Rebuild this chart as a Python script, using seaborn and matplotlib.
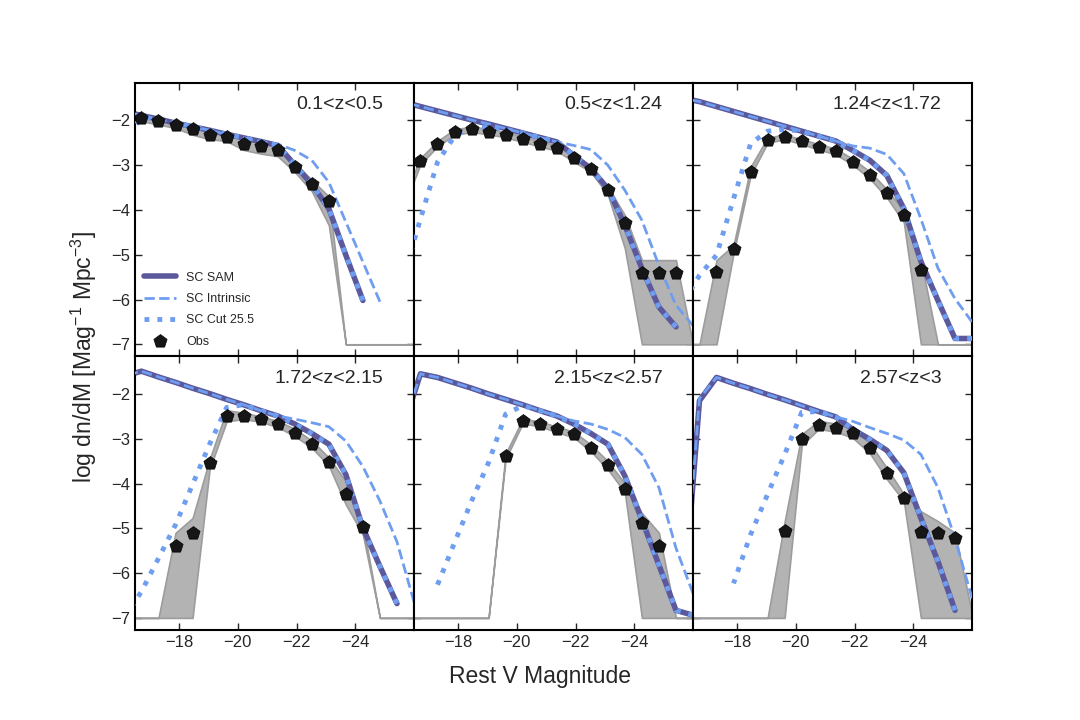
import numpy as np
import pandas as pd
import matplotlib
matplotlib.use("Agg")
import matplotlib.pyplot as plt
import seaborn as sns

nan = np.nan

# magnitude bin centres (shared by model and data)
MAG = [-16.14, -16.72, -17.30, -17.88, -18.46, -19.04, -19.62, -20.20, -20.78,
       -21.36, -21.94, -22.52, -23.10, -23.68, -24.26, -24.84, -25.42, -26.00]

ZBINS = ["0.1<z<0.5", "0.5<z<1.24", "1.24<z<1.72",
         "1.72<z<2.15", "2.15<z<2.57", "2.57<z<3"]

SAM = [
    [-1.80, -1.89, -1.97, -2.06, -2.14, -2.22, -2.31, -2.39, -2.47, -2.56, -2.99, -3.43, -3.97, -5.01, -6.02, nan, nan, nan],
    [-1.59, -1.69, -1.79, -1.89, -1.99, -2.08, -2.18, -2.28, -2.38, -2.48, -2.78, -3.08, -3.52, -4.34, -5.31, -6.17, -6.61, nan],
    [-1.50, -1.58, -1.69, -1.80, -1.91, -2.02, -2.13, -2.24, -2.35, -2.46, -2.67, -2.89, -3.23, -3.97, -5.15, -6.02, -6.87, -6.87],
    [-1.60, -1.49, -1.62, -1.74, -1.87, -1.99, -2.12, -2.24, -2.37, -2.49, -2.67, -2.88, -3.12, -3.80, -4.99, -5.85, -6.68, nan],
    [-2.72, -1.55, -1.63, -1.75, -1.87, -2.00, -2.12, -2.24, -2.37, -2.49, -2.67, -2.88, -3.12, -3.83, -4.81, -5.82, -6.83, -6.94],
    [-7.00, -2.15, -1.63, -1.76, -1.88, -2.01, -2.13, -2.26, -2.39, -2.51, -2.79, -3.01, -3.26, -3.76, -4.77, -5.74, -6.83, nan],
]

INTRINSIC = [
    [-1.80, -1.89, -1.97, -2.06, -2.14, -2.22, -2.31, -2.39, -2.47, -2.53, -2.67, -2.89, -3.38, -4.27, -5.16, -6.05, nan, nan],
    [-1.59, -1.69, -1.79, -1.89, -1.99, -2.08, -2.18, -2.28, -2.38, -2.48, -2.56, -2.65, -3.00, -3.56, -4.23, -5.24, -6.13, -6.58],
    [-1.50, -1.58, -1.69, -1.80, -1.91, -2.02, -2.13, -2.24, -2.35, -2.46, -2.57, -2.62, -2.76, -3.19, -4.20, -5.30, -5.98, -6.50],
    [-1.60, -1.49, -1.62, -1.74, -1.87, -1.99, -2.12, -2.24, -2.37, -2.49, -2.56, -2.64, -2.73, -3.05, -3.62, -4.39, -5.30, -6.64],
    [-2.72, -1.55, -1.63, -1.75, -1.87, -2.00, -2.12, -2.24, -2.37, -2.49, -2.60, -2.67, -2.79, -2.97, -3.35, -4.09, -5.44, -6.45],
    [-7.00, -2.10, -1.63, -1.76, -1.88, -2.01, -2.13, -2.26, -2.39, -2.51, -2.61, -2.75, -2.88, -3.03, -3.35, -4.09, -5.22, -6.56],
]

CUT = [
    [-2.45, -1.93, -1.98, -2.06, -2.14, -2.22, -2.31, -2.39, -2.47, -2.56, -2.99, -3.43, -3.97, -5.01, -6.02, nan, nan, nan],
    [-5.50, -4.20, -2.93, -2.35, -2.15, -2.15, -2.20, -2.28, -2.38, -2.48, -2.78, -3.08, -3.52, -4.34, -5.31, -6.17, -6.61, nan],
    [-6.10, -5.46, -5.01, -3.75, -2.52, -2.24, -2.20, -2.24, -2.35, -2.46, -2.67, -2.89, -3.23, -3.97, -5.15, -6.02, -6.87, -6.87],
    [-7.00, -6.41, -5.67, -4.92, -4.02, -3.12, -2.30, -2.24, -2.37, -2.49, -2.67, -2.88, -3.12, -3.80, -4.99, -5.85, -6.68, nan],
    [nan, nan, -6.26, -5.32, -4.39, -3.53, -2.45, -2.26, -2.37, -2.49, -2.67, -2.88, -3.12, -3.83, -4.81, -5.82, -6.83, -6.94],
    [nan, nan, nan, -6.23, -5.14, -4.24, -3.35, -2.41, -2.39, -2.51, -2.79, -3.01, -3.26, -3.76, -4.77, -5.74, -6.83, nan],
]

OBS = [
    [nan, -1.95, -2.02, -2.10, -2.20, -2.33, -2.38, -2.52, -2.58, -2.65, -3.03, -3.42, -3.80, nan, nan, nan, nan, nan],
    [nan, -2.91, -2.52, -2.26, -2.20, -2.25, -2.32, -2.42, -2.52, -2.62, -2.85, -3.08, -3.56, -4.28, -5.40, -5.40, -5.40, nan],
    [nan, nan, -5.38, -4.88, -3.15, -2.43, -2.37, -2.47, -2.59, -2.69, -2.92, -3.21, -3.62, -4.12, -5.33, nan, nan, nan],
    [nan, nan, nan, -5.39, -5.10, -3.53, -2.50, -2.50, -2.56, -2.67, -2.86, -3.12, -3.51, -4.23, -4.98, nan, nan, nan],
    [nan, nan, nan, nan, nan, nan, -3.38, -2.61, -2.66, -2.79, -2.90, -3.20, -3.59, -4.12, -4.87, -5.39, nan, nan],
    [nan, nan, nan, nan, nan, nan, -5.05, -3.01, -2.69, -2.75, -2.88, -3.21, -3.77, -4.32, -5.09, -5.10, -5.22, nan],
]

OBS_LO = [
    [nan, -2.02, -2.09, -2.17, -2.32, -2.42, -2.46, -2.66, -2.74, -2.80, -3.15, -3.58, -4.34, -7.0, -7.0, -7.0, -7.0, -7.0],
    [-3.95, -2.98, -2.58, -2.32, -2.26, -2.31, -2.38, -2.48, -2.58, -2.68, -2.92, -3.15, -3.66, -4.86, -7.0, -7.0, -7.0, -7.0],
    [-7.0, -7.0, -7.0, -4.97, -3.23, -2.50, -2.42, -2.53, -2.65, -2.76, -2.99, -3.30, -3.72, -4.28, -7.0, -7.0, -7.0, -7.0],
    [-7.0, -7.0, -7.0, -7.0, -7.0, -3.68, -2.61, -2.56, -2.62, -2.74, -2.94, -3.20, -3.60, -4.47, -5.14, -7.0, -7.0, -7.0],
    [-7.0, -7.0, -7.0, -7.0, -7.0, -7.0, -3.45, -2.66, -2.72, -2.85, -2.97, -3.28, -3.68, -4.20, -7.0, -7.0, -7.0, -7.0],
    [-7.0, -7.0, -7.0, -7.0, -7.0, -7.0, -7.0, -3.15, -2.78, -2.84, -2.98, -3.32, -3.90, -4.39, -7.0, -7.0, -7.0, -7.0],
]

OBS_HI = [
    [nan, -1.90, -1.97, -2.05, -2.12, -2.25, -2.31, -2.43, -2.50, -2.57, -2.95, -3.33, -3.70, -7.0, -7.0, -7.0, -7.0, -7.0],
    [-3.75, -2.84, -2.46, -2.20, -2.14, -2.19, -2.26, -2.36, -2.46, -2.56, -2.78, -3.01, -3.48, -4.12, -5.12, -5.12, -5.12, -7.0],
    [-7.0, -7.0, -5.12, -4.79, -3.04, -2.38, -2.32, -2.42, -2.53, -2.63, -2.86, -3.14, -3.54, -4.02, -5.12, -7.0, -7.0, -7.0],
    [-7.0, -7.0, -7.0, -5.10, -4.77, -3.46, -2.36, -2.42, -2.50, -2.60, -2.78, -3.04, -3.42, -3.95, -4.90, -7.0, -7.0, -7.0],
    [-7.0, -7.0, -7.0, -7.0, -7.0, -7.0, -3.33, -2.56, -2.61, -2.73, -2.84, -3.13, -3.50, -4.00, -4.66, -5.10, -7.0, -7.0],
    [-7.0, -7.0, -7.0, -7.0, -7.0, -7.0, -4.85, -2.90, -2.60, -2.66, -2.78, -3.10, -3.65, -4.24, -4.62, -4.84, -5.10, -6.90],
]

SAM_COLOR = "#5b589b"
BLUE = "#6f9ef0"

sns.set_style("ticks")
plt.rcParams["font.family"] = ["Liberation Sans", "DejaVu Sans"]
plt.rcParams["mathtext.fontset"] = "custom"
plt.rcParams["mathtext.rm"] = "Liberation Sans"
plt.rcParams["mathtext.it"] = "Liberation Sans:italic"
plt.rcParams["axes.linewidth"] = 1.5
plt.rcParams["axes.edgecolor"] = "black"

fig, axes = plt.subplots(2, 3, figsize=(10.8, 7.2), dpi=100, sharex=True, sharey=True)
fig.subplots_adjust(left=0.125, right=0.9, bottom=0.125, top=0.885, wspace=0, hspace=0)

for k, ax in enumerate(axes.flat):
    df = pd.DataFrame({"mag": MAG, "sam": SAM[k], "intr": INTRINSIC[k], "cut": CUT[k],
                       "obs": OBS[k], "lo": OBS_LO[k], "hi": OBS_HI[k]})
    band = df.dropna(subset=["lo", "hi"])
    ax.fill_between(band["mag"], band["lo"], band["hi"], facecolor="#b3b3b3",
                    edgecolor="#9c9c9c", linewidth=1.2, zorder=1)
    sns.lineplot(data=df, x="mag", y="sam", ax=ax, color=SAM_COLOR, lw=4,
                 label="SC SAM", legend=False, zorder=2)
    sns.lineplot(data=df, x="mag", y="intr", ax=ax, color=BLUE, lw=2, linestyle="--",
                 label="SC Intrinsic", legend=False, zorder=3)
    sns.lineplot(data=df, x="mag", y="cut", ax=ax, color=BLUE, lw=3.5, linestyle=":",
                 label="SC Cut 25.5", legend=False, zorder=4)
    sns.scatterplot(data=df, x="mag", y="obs", ax=ax, marker="p", s=100, color="#161616",
                    edgecolor="black", linewidth=0.5, label="Obs", legend=False, zorder=5)

    ax.text(0.89, 0.92, ZBINS[k], transform=ax.transAxes, ha="right", va="center", fontsize=14)
    ax.set_xlabel("")
    ax.set_ylabel("")
    ax.tick_params(direction="in", top=True, right=True, length=5, width=1, labelsize=12)

axes[0, 0].set_xlim(-16.5, -26)
axes[0, 0].set_ylim(-7.27, -1.16)
axes[0, 0].set_xticks([-18, -20, -22, -24])
axes[0, 0].set_yticks([-2, -3, -4, -5, -6, -7])

axes[0, 0].legend(loc="lower left", frameon=False, fontsize=9, handlelength=2.6,
                  labelspacing=0.75, borderaxespad=0.3)

fig.text(0.5, 0.06, "Rest V Magnitude", ha="center", va="center", fontsize=16.5)
fig.text(0.078, 0.505, "log dn/dM [Mag$^{-1}$ Mpc$^{-3}$]", ha="center", va="center",
         rotation=90, fontsize=16.5)

fig.savefig("out.png", dpi=100)
